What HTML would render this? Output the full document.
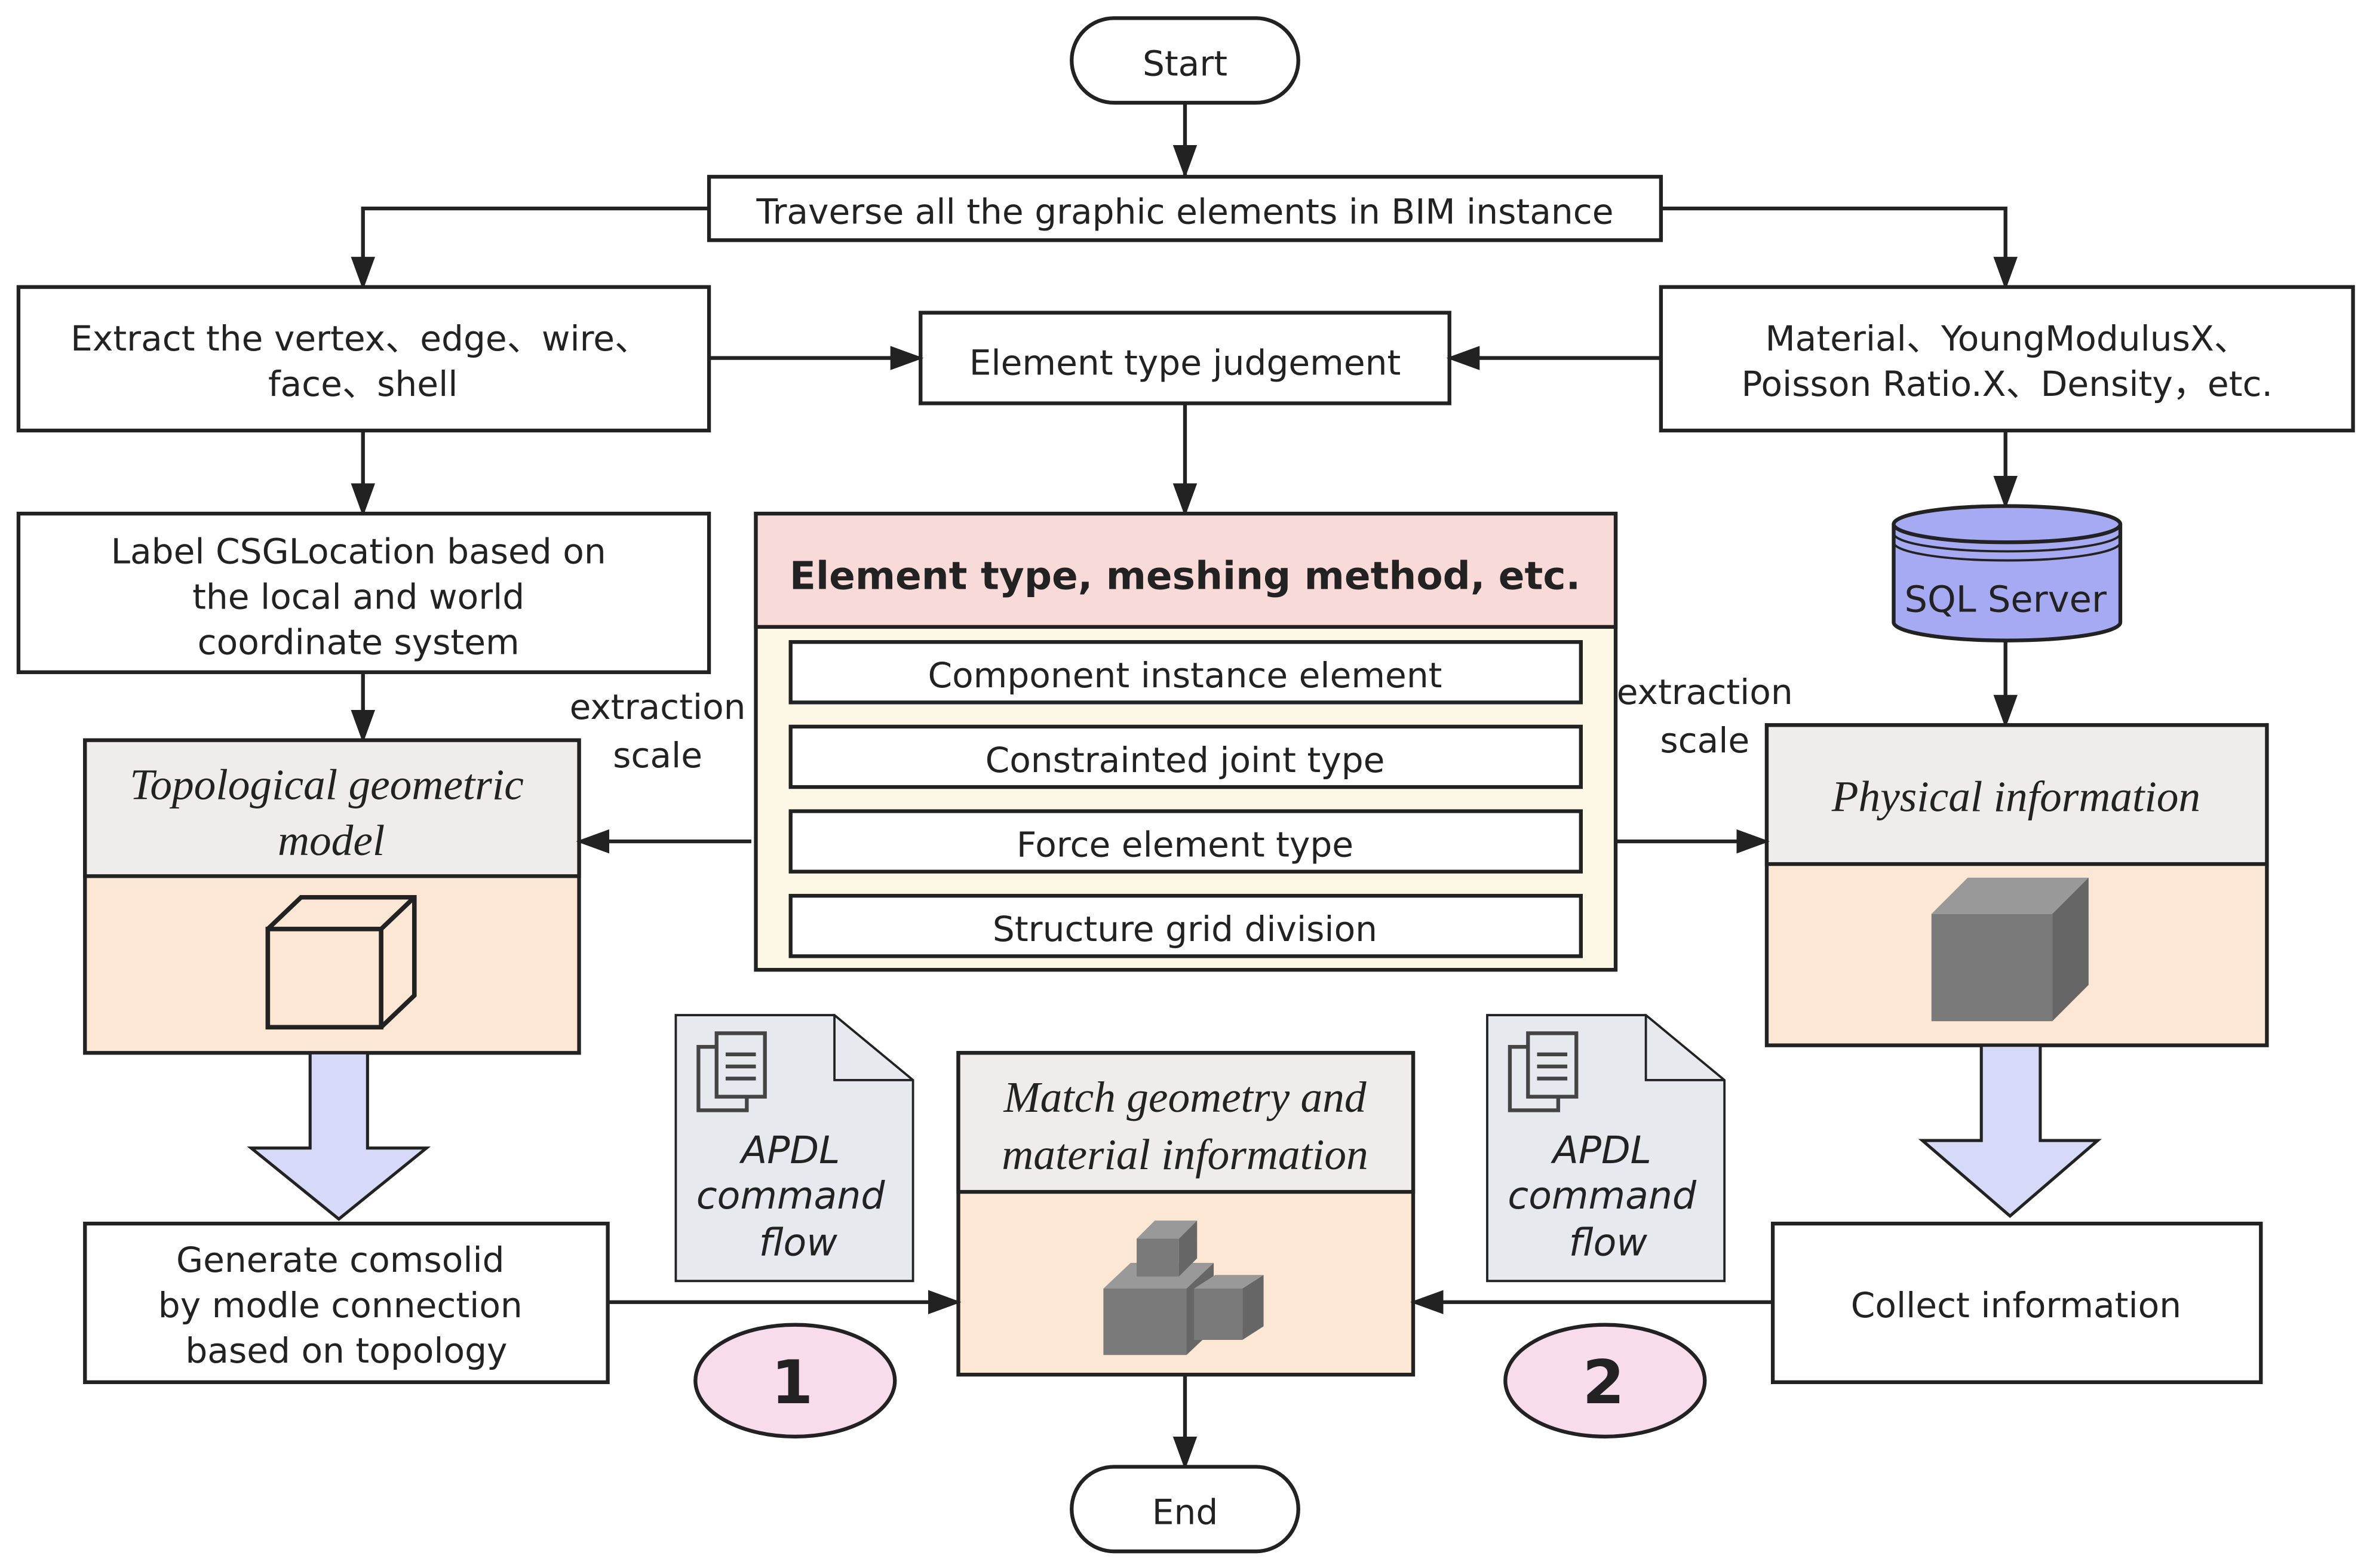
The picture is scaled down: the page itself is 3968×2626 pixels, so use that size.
<!DOCTYPE html>
<html><head><meta charset="utf-8"><style>
html,body{margin:0;padding:0;background:#fff;}
svg{display:block;}
text{font-family:"DejaVu Sans","Liberation Sans",sans-serif;fill:#222;}
.s{font-size:23px;}
.it{font-family:"Liberation Serif",serif;font-style:italic;font-size:29px;}
</style></head><body>
<svg width="3968" height="2626" viewBox="0 0 1568 1038" xmlns="http://www.w3.org/2000/svg">
<defs>
<marker id="a" markerWidth="22" markerHeight="16" refX="20" refY="8" orient="auto" markerUnits="userSpaceOnUse" viewBox="0 0 22 16">
<path d="M0,0 L22,8 L0,16 z" fill="#222"/></marker>
</defs>
<g stroke="#222" stroke-width="2.5" fill="none">
<rect x="709" y="12" width="150" height="56" rx="28" fill="#fff"/>
<line x1="784" y1="68" x2="784" y2="116" marker-end="url(#a)"/>
<rect x="469" y="117" width="630" height="42" fill="#fff"/>
<polyline points="469,138 240,138 240,190" marker-end="url(#a)"/>
<polyline points="1099,138 1327,138 1327,190" marker-end="url(#a)"/>
<rect x="12" y="190" width="457" height="95" fill="#fff"/>
<rect x="609" y="207" width="350" height="60" fill="#fff"/>
<rect x="1099" y="190" width="458" height="95" fill="#fff"/>
<line x1="469" y1="237" x2="609" y2="237" marker-end="url(#a)"/>
<line x1="1099" y1="237" x2="959" y2="237" marker-end="url(#a)"/>
<line x1="240" y1="285" x2="240" y2="340" marker-end="url(#a)"/>
<line x1="784" y1="267" x2="784" y2="340" marker-end="url(#a)"/>
<line x1="1327" y1="285" x2="1327" y2="335" marker-end="url(#a)"/>
<rect x="12" y="340" width="457" height="105" fill="#fff"/>
<rect x="500" y="340" width="569" height="302" fill="#fdf8e6"/>
<rect x="500" y="340" width="569" height="75" fill="#f8dad8"/>
<rect x="523" y="425" width="523" height="40" fill="#fff"/>
<rect x="523" y="481" width="523" height="40" fill="#fff"/>
<rect x="523" y="537" width="523" height="40" fill="#fff"/>
<rect x="523" y="593" width="523" height="40" fill="#fff"/>
<path d="M1253,347 L1253,412 A75,12 0 0 0 1403,412 L1403,347" fill="#a6aaf2"/>
<ellipse cx="1328" cy="347" rx="75" ry="12" fill="#a6aaf2"/>
<path d="M1253,353 A75,12 0 0 0 1403,353" stroke-width="1.5"/>
<path d="M1253,359 A75,12 0 0 0 1403,359" stroke-width="1.5"/>
<line x1="1327" y1="425" x2="1327" y2="480" marker-end="url(#a)"/>
<line x1="240" y1="445" x2="240" y2="490" marker-end="url(#a)"/>
<rect x="56" y="490" width="327" height="207" fill="#fce7d5"/>
<rect x="56" y="490" width="327" height="90" fill="#f0ecec"/>
<line x1="497" y1="557" x2="383" y2="557" marker-end="url(#a)"/>
<rect x="1169" y="480" width="331" height="212" fill="#fce7d5"/>
<rect x="1169" y="480" width="331" height="92" fill="#f0ecec"/>
<line x1="1069" y1="557" x2="1169" y2="557" marker-end="url(#a)"/>
<path d="M205,697 L243,697 L243,760 L282,760 L224,807 L166,760 L205,760 z" fill="#d6daf8" stroke-width="2"/>
<path d="M1311,692 L1350,692 L1350,755 L1388,755 L1330,805 L1272,755 L1311,755 z" fill="#d6daf8" stroke-width="2"/>
<rect x="56" y="810" width="346" height="105" fill="#fff"/>
<rect x="1173" y="810" width="323" height="105" fill="#fff"/>
<rect x="634" y="697" width="301" height="213" fill="#fce7d5"/>
<rect x="634" y="697" width="301" height="92" fill="#f0ecec"/>
<line x1="402" y1="862" x2="634" y2="862" marker-end="url(#a)"/>
<line x1="1173" y1="862" x2="935" y2="862" marker-end="url(#a)"/>
<line x1="784" y1="910" x2="784" y2="971" marker-end="url(#a)"/>
<rect x="709" y="971" width="150" height="56" rx="28" fill="#fff"/>
<path d="M447,672 L552,672 L604,715 L604,848 L447,848 z" fill="#e6e9ee" stroke-width="1.5"/>
<path d="M552,672 L552,715 L604,715" stroke-width="1.5"/>
<path d="M984,672 L1089,672 L1141,715 L1141,848 L984,848 z" fill="#e6e9ee" stroke-width="1.5"/>
<path d="M1089,672 L1089,715 L1141,715" stroke-width="1.5"/>
<g stroke="#444" stroke-width="2.5">
<rect x="462" y="693" width="32" height="42" fill="#e6e9ee"/><rect x="474" y="684" width="32" height="42" fill="#e6e9ee"/>
<line x1="480" y1="698" x2="500" y2="698"/><line x1="480" y1="706" x2="500" y2="706"/><line x1="480" y1="714" x2="500" y2="714"/>
<rect x="999" y="693" width="32" height="42" fill="#e6e9ee"/><rect x="1011" y="684" width="32" height="42" fill="#e6e9ee"/>
<line x1="1017" y1="698" x2="1037" y2="698"/><line x1="1017" y1="706" x2="1037" y2="706"/><line x1="1017" y1="714" x2="1037" y2="714"/>
</g>
<ellipse cx="526" cy="914" rx="66" ry="37" fill="#f9dcec"/>
<ellipse cx="1062" cy="914" rx="66" ry="37" fill="#f9dcec"/>
<g stroke-width="3">
<rect x="177" y="615" width="75" height="65" fill="#fce7d5"/>
<path d="M177,615 L199,594 L274,594 L274,659 L252,680 M252,615 L274,594"/>
</g>
</g>
<g stroke="none">
<polygon points="1278,605 1358,605 1358,676 1278,676" fill="#7a7a7a"/>
<polygon points="1278,605 1302,581 1382,581 1358,605" fill="#999"/>
<polygon points="1358,605 1382,581 1382,652 1358,676" fill="#666"/>
<polygon points="730,853 785,853 785,897 730,897" fill="#7a7a7a"/><polygon points="730,853 748,836 803,836 785,853" fill="#999"/><polygon points="785,853 803,836 803,880 785,897" fill="#666"/>
<polygon points="790,853 822,853 822,887 790,887" fill="#7a7a7a"/><polygon points="790,853 804,844 836,844 822,853" fill="#999"/><polygon points="822,853 836,844 836,878 822,887" fill="#666"/>
<polygon points="752,820 780,820 780,845 752,845" fill="#7a7a7a"/><polygon points="752,820 764,808 792,808 780,820" fill="#999"/><polygon points="780,820 792,808 792,833 780,845" fill="#666"/>
</g>
<g text-anchor="middle" class="s">
<text x="784" y="50">Start</text>
<text x="784" y="148">Traverse all the graphic elements in BIM instance</text>
<text x="238" y="232">Extract the vertex、edge、wire、</text>
<text x="240" y="262">face、shell</text>
<text x="784" y="248">Element type judgement</text>
<text x="1328" y="232">Material、YoungModulusX、</text>
<text x="1328" y="262">Poisson Ratio.X、Density，etc.</text>
<text x="237" y="373">Label CSGLocation based on</text>
<text x="237" y="403">the local and world</text>
<text x="237" y="433">coordinate system</text>
<text x="784" y="390" style="font-weight:bold;font-size:25.5px">Element type, meshing method, etc.</text>
<text x="784" y="455">Component instance element</text>
<text x="784" y="511">Constrainted joint type</text>
<text x="784" y="567">Force element type</text>
<text x="784" y="623">Structure grid division</text>
<text x="1327" y="405" style="font-size:24px">SQL Server</text>
<text x="435" y="476">extraction</text><text x="435" y="508">scale</text>
<text x="1128" y="466">extraction</text><text x="1128" y="498">scale</text>
<text x="216" y="529" class="it">Topological geometric</text>
<text x="219" y="566" class="it">model</text>
<text x="1334" y="537" class="it">Physical information</text>
<text x="784" y="736" class="it">Match geometry and</text>
<text x="784" y="774" class="it">material information</text>
<text x="225" y="842">Generate comsolid</text>
<text x="225" y="872">by modle connection</text>
<text x="229" y="902">based on topology</text>
<text x="1334" y="872">Collect information</text>
<text x="523" y="770" style="font-style:italic;font-size:25px">APDL</text>
<text x="523" y="800" style="font-style:italic;font-size:25px">command</text>
<text x="528" y="831" style="font-style:italic;font-size:25px">flow</text>
<text x="1060" y="770" style="font-style:italic;font-size:25px">APDL</text>
<text x="1060" y="800" style="font-style:italic;font-size:25px">command</text>
<text x="1064" y="831" style="font-style:italic;font-size:25px">flow</text>
<text x="524" y="929" style="font-weight:bold;font-size:40px">1</text>
<text x="1061" y="929" style="font-weight:bold;font-size:40px">2</text>
<text x="784" y="1009">End</text>
</g>
</svg>
</body></html>
